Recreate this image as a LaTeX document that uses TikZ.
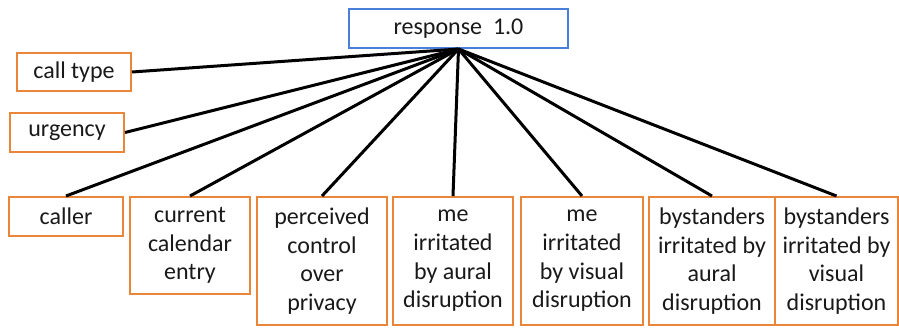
\documentclass[tikz,border=0pt]{standalone}
\usepackage{fontspec}
\setmainfont{Carlito}
\definecolor{boxorange}{RGB}{233,134,58}
\definecolor{boxblue}{RGB}{74,127,217}
\definecolor{inkgray}{RGB}{25,25,25}
\tikzset{
  factor/.style={draw=boxorange, line width=2pt, rectangle, inner sep=0pt,
    align=center, text=inkgray, font=\fontsize{24}{28.6}\selectfont},
  root/.style={draw=boxblue, line width=2pt, rectangle, inner sep=0pt,
    align=center, text=inkgray, font=\fontsize{24}{28.6}\selectfont},
  link/.style={draw=black, line width=3pt}
}
\begin{document}
\begin{tikzpicture}[x=1pt,y=-1pt]
\useasboundingbox (0,0) rectangle (899,327);
% top node
\node[root, minimum width=219pt, minimum height=39pt] (resp) at (458.5,28.5) {response\ \ 1.0};
% left column
\node[factor, minimum width=114pt, minimum height=38pt] (calltype) at (74,72) {call type};
\node[factor, minimum width=114pt, minimum height=39pt] (urgency) at (67,132.5) {urgency};
\node[factor, minimum width=114pt, minimum height=39pt] (caller) at (66,216.5) {caller};
% bottom row
\node[factor, minimum width=120pt, minimum height=97pt] (calendar) at (190,245.5) {current\\calendar\\entry};
\node[factor, minimum width=130pt, minimum height=128pt] (privacy) at (322,261) {perceived\\control\\over\\privacy};
\node[factor, minimum width=120pt, minimum height=128pt] (meaural) at (453,261) {me\\irritated\\by aural\\disruption};
\node[factor, minimum width=122pt, minimum height=128pt] (mevisual) at (582,261) {me\\irritated\\by visual\\disruption};
\node[factor, minimum width=126pt, minimum height=128pt] (byaural) at (712,261) {bystanders\\irritated by\\aural\\disruption};
\node[factor, minimum width=123pt, minimum height=128pt] (byvisual) at (836.5,261) {bystanders\\irritated by\\visual\\disruption};
% connectors
\draw[link] (resp.south) -- (calltype.east);
\draw[link] (resp.south) -- (urgency.east);
\foreach \n in {caller,calendar,privacy,meaural,mevisual,byaural,byvisual}
  \draw[link] (resp.south) -- (\n.north);
\end{tikzpicture}
\end{document}
